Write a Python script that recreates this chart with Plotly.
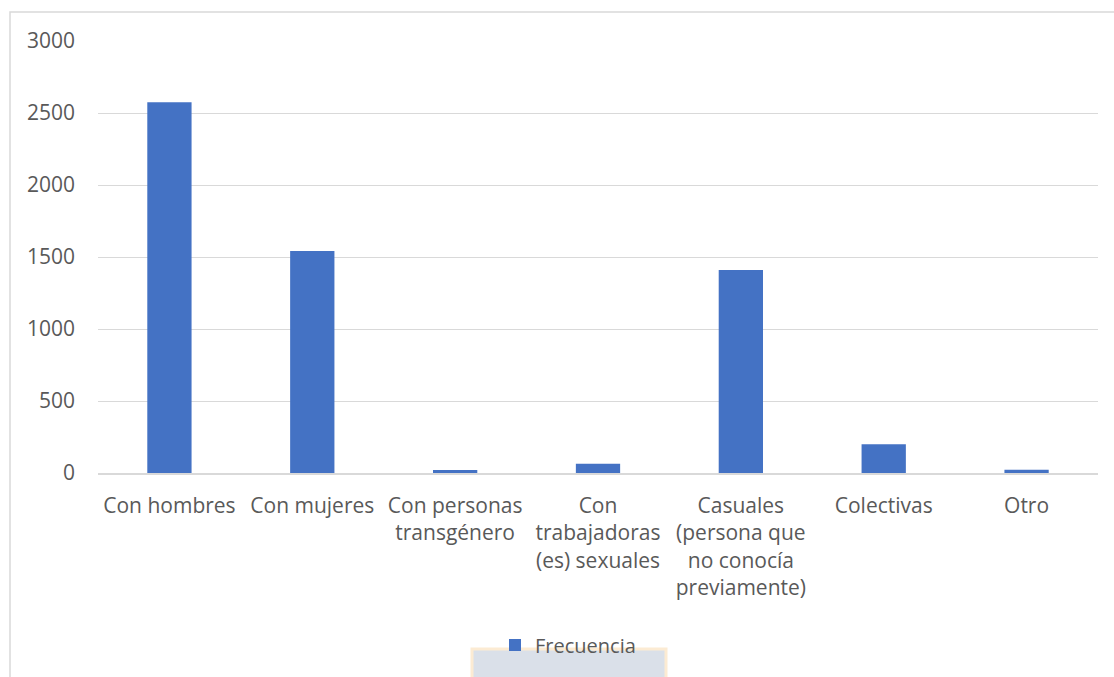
import plotly.graph_objects as go

categories = [
    "Con hombres",
    "Con mujeres",
    "Con personas<br>transgénero",
    "Con<br>trabajadoras<br>(es) sexuales",
    "Casuales<br>(persona que<br>no conocía<br>previamente)",
    "Colectivas",
    "Otro",
]
frecuencia = [2575, 1542, 20, 65, 1410, 200, 22]
y_ticks = [0, 500, 1000, 1500, 2000, 2500, 3000]

W, H = 1114, 677
ml, mr, mt, mb = 98, 16, 41, 204
pw, ph = W - ml - mr, H - mt - mb

def px_x(p):
    return (p - ml) / pw

def px_y(p):
    return (H - mb - p) / ph

fig = go.Figure()
fig.add_trace(go.Bar(
    x=categories, y=frecuencia, name="Frecuencia",
    marker=dict(color="#4472C4", line=dict(width=0)),
    showlegend=True,
))

font_family = "Open Sans, Liberation Sans, sans-serif"
fs = 21
fig.update_layout(
    width=W, height=H,
    margin=dict(l=ml, r=mr, t=mt, b=mb),
    paper_bgcolor="white", plot_bgcolor="white",
    bargap=0.69,
    font=dict(family=font_family, size=fs, color="#595959"),
    showlegend=True,
    legend=dict(orientation="h", x=0.47, xanchor="center", y=px_y(645), yanchor="middle",
                font=dict(size=20, color="#595959"), bgcolor="rgba(0,0,0,0)"),
    xaxis=dict(showgrid=False, showline=True, linecolor="#D9D9D9", linewidth=1.5,
               ticks="", tickangle=0, tickfont=dict(size=fs, color="#595959"),
               ticklabelstandoff=13),
    yaxis=dict(range=[0, 3000], tickvals=y_ticks, showgrid=True, gridcolor="#D9D9D9",
               gridwidth=1, zeroline=False, showline=False, ticks="",
               tickfont=dict(size=fs, color="#595959"), ticklabelstandoff=22),
    shapes=[
        dict(type="rect", xref="paper", yref="paper",
             x0=px_x(472), x1=px_x(666), y0=px_y(700), y1=px_y(649),
             line=dict(color="#FCEBD3", width=3), fillcolor="#DAE0E9", layer="below"),
        dict(type="rect", xref="paper", yref="paper",
             x0=px_x(10), x1=px_x(1130), y0=px_y(700), y1=px_y(12),
             line=dict(color="#D9D9D9", width=1.5), fillcolor="rgba(0,0,0,0)", layer="below"),
    ],
)

fig.write_html("out.html")
